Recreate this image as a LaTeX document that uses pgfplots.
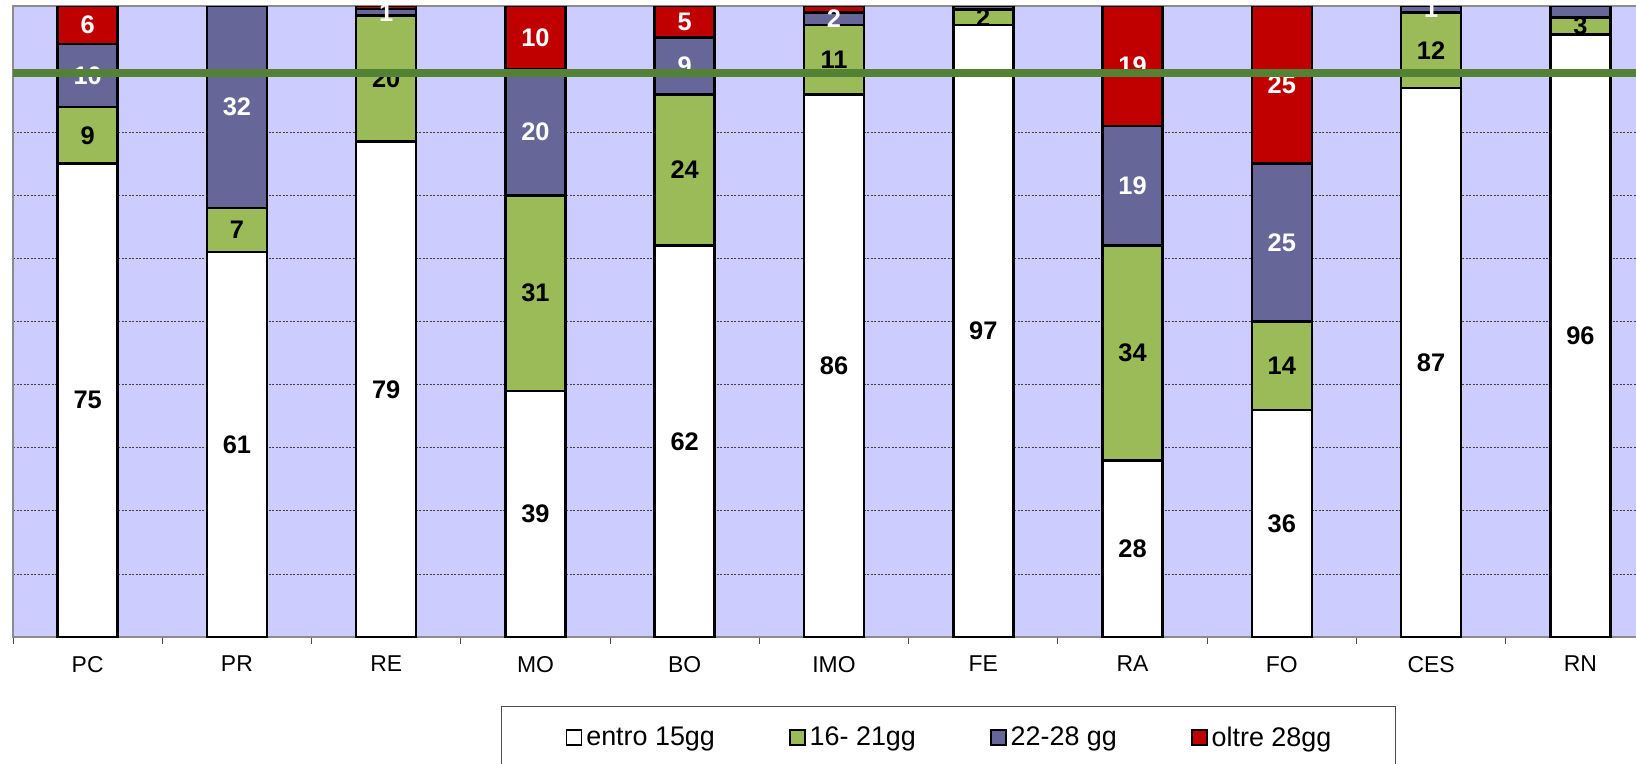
\documentclass[border=0pt]{standalone}
\usepackage{fontspec}
\setmainfont{Liberation Sans}
\usepackage{pgfplots}
\usepackage{pgfplotstable}
\pgfplotsset{compat=1.18}
\definecolor{bgc}{HTML}{CCCCFF}
\definecolor{gr}{HTML}{9BBB59}
\definecolor{bl}{HTML}{666699}
\definecolor{rd}{HTML}{C00000}
\definecolor{ln}{HTML}{548235}

% x = category index, y = share (%), lab = printed label (~ = not shown)
\pgfplotstableread[col sep=comma]{
x,y,lab
0,75,75
1,61,61
2,78.5,79
3,39,39
4,62,62
5,86,86
6,97,97
7,28,28
8,36,36
9,87,87
10,95.5,96
}\entro
\pgfplotstableread[col sep=comma]{
x,y,lab
0,9,9
1,7,7
2,20,20
3,31,31
4,24,24
5,11,11
6,2.4,2
7,34,34
8,14,14
9,12,12
10,2.7,3
}\sedici
\pgfplotstableread[col sep=comma]{
x,y,lab
0,10,10
1,32,32
2,1,1
3,20,20
4,9,9
5,2,2
6,0.6,~
7,19,19
8,25,25
9,1,1
10,1.8,~
}\ventidue
\pgfplotstableread[col sep=comma]{
x,y,lab
0,6,6
1,0,0
2,0.5,~
3,10,10
4,5,5
5,1,~
6,0,~
7,19,19
8,25,25
9,0,~
10,0,~
}\oltre

\begin{document}
\begin{tikzpicture}
\useasboundingbox (0bp,0bp) rectangle (818bp,-382bp);
\clip (0bp,0bp) rectangle (818bp,-382bp);
\begin{axis}[
  at={(6.5bp,-318.5bp)}, anchor=south west,
  scale only axis, width=821bp, height=315.5bp,
  ybar stacked, bar width=30bp,
  xmin=-0.5, xmax=10.5, ymin=0, ymax=100,
  xtick={0,...,10},
  xticklabels={PC,PR,RE,MO,BO,IMO,FE,RA,FO,CES,RN},
  minor xtick={-0.5,0.5,...,10.5},
  xtick pos=lower,
  ytick={10,20,...,90}, yticklabels={},
  ymajorgrids,
  major grid style={black!75, line width=0.4bp, dash pattern=on 1bp off 0.75bp},
  axis background/.style={fill=bgc},
  axis line style={black!45, line width=1bp},
  tick align=outside, major tick length=0bp, minor tick length=3.5bp,
  minor tick style={black!70, line width=0.5bp},
  ytick style={draw=none},
  ticklabel style={font=\fontsize{11.5}{13.5}\selectfont},
  xticklabel style={yshift=-6bp},
  legend columns=4,
  legend cell align=left,
  legend image code/.code={\draw[#1,line width=0.9bp] (0bp,-3.75bp) rectangle (7.5bp,3.75bp);},
  legend style={at={(0.2972,-0.1094)}, anchor=north west,
    draw=black!70, line width=0.5bp,
    font=\fontsize{13.5}{16}\selectfont,
    inner xsep=32bp, inner ysep=9bp,
    nodes={inner xsep=0bp, inner ysep=1bp},
    /tikz/every odd column/.append style={column sep=2bp},
    /tikz/every even column/.append style={column sep=37bp}},
  point meta=explicit symbolic,
  nodes near coords={\pgfplotspointmeta},
  every node near coord/.append style={anchor=center,
    font=\bfseries\fontsize{12.75}{15}\selectfont},
]
\addplot[fill=white, draw=black, line width=1.3bp,
  every node near coord/.append style={text=black}] table[x=x,y=y,meta=lab] {\entro};
\addlegendentry{entro 15gg}
\addplot[fill=gr, draw=black, line width=1.3bp,
  every node near coord/.append style={text=black}] table[x=x,y=y,meta=lab] {\sedici};
\addlegendentry{16- 21gg}
\addplot[fill=bl, draw=black, line width=1.3bp,
  every node near coord/.append style={text=white}] table[x=x,y=y,meta=lab] {\ventidue};
\addlegendentry{22-28 gg}
\addplot[fill=rd, draw=black, line width=1.3bp,
  every node near coord/.append style={text=white}] table[x=x,y=y,meta=lab] {\oltre};
\addlegendentry{oltre 28gg}
\end{axis}
\begin{axis}[
  at={(6.5bp,-318.5bp)}, anchor=south west,
  scale only axis, width=821bp, height=315.5bp,
  xmin=-0.5, xmax=10.5, ymin=0, ymax=100,
  axis lines=none, clip=false,
]
\addplot[ln, line width=3.75bp, no marks] coordinates {(-0.5,89.4) (10.5,89.4)};
\end{axis}
\end{tikzpicture}
\end{document}
